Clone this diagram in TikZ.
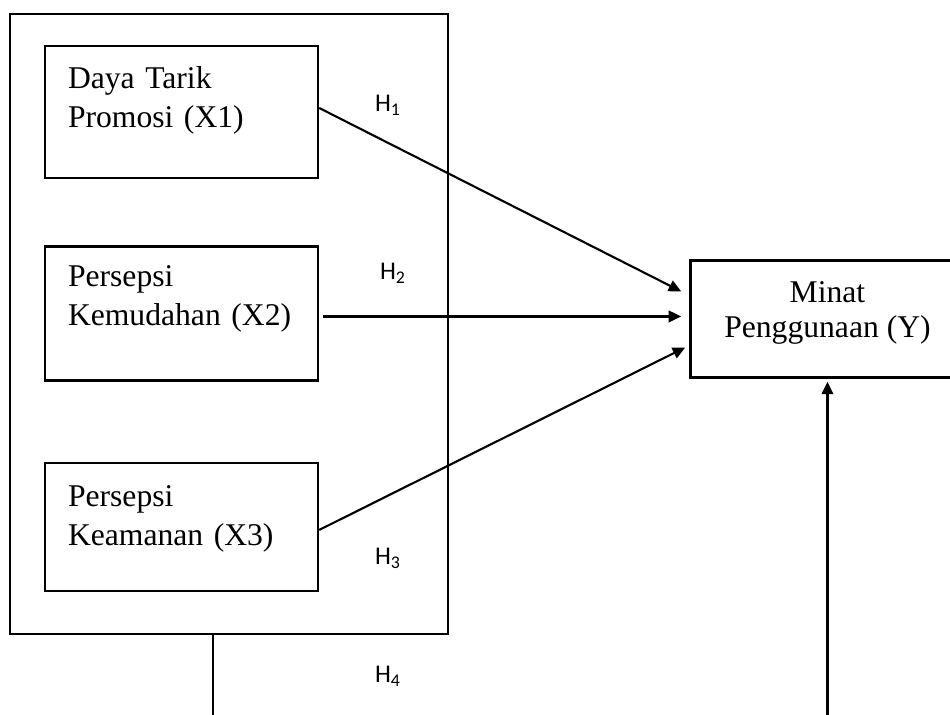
\documentclass[tikz,border=0pt]{standalone}
\usepackage{fontspec}
\setmainfont{Liberation Serif}
\newfontfamily\hfont{Carlito}
\usetikzlibrary{arrows.meta, positioning}

\newcommand{\boxpad}[1]{\rule[-#1]{0pt}{0pt}}

\begin{document}
\begin{tikzpicture}[>={Triangle[length=2.5mm,width=2.3mm]}, line width=1.2pt,
		varbox/.style={rectangle, draw, line width=1.4pt, minimum width=5.46cm, text width=4.54cm, inner xsep=0.46cm, inner ysep=0pt, align=left, font=\fontsize{18}{22.2}\selectfont},
		depbox/.style={rectangle, draw, line width=1.4pt, minimum width=5.48cm, minimum height=2.34cm, inner ysep=0pt, align=center, font=\fontsize{18}{19.9}\selectfont},
		hyp/.style={font=\hfont\fontsize{14.5}{16}\selectfont},
		arrow/.style={->}
	]
	\useasboundingbox (0,0) rectangle (19,-14.3);
	
	% Nodes
	\node[draw, line width=1.4pt, minimum width=8.76cm, minimum height=12.4cm] (outer) at (4.58,-6.48) {};
	\node[varbox, minimum height=2.64cm] (x1) at (3.63,-2.24) {Daya Tarik\\Promosi (X1)\boxpad{0.6cm}};
	\node[varbox, minimum height=2.68cm, below=1.32cm of x1] (x2) {Persepsi\\Kemudahan (X2)\boxpad{0.7cm}};
	\node[varbox, minimum height=2.56cm, below=1.6cm of x2] (x3) {Persepsi\\Keamanan (X3)\boxpad{0.46cm}};
	\node[depbox, right=7.4cm of x2, yshift=-0.11cm] (y) {Minat\\Penggunaan (Y)\boxpad{0.39cm}};
	
	% Labels
	\node[hyp] (h1) at (7.76,-2.1) {H\textsubscript{1}};
	\node[hyp] (h2) at (7.86,-5.46) {H\textsubscript{2}};
	\node[hyp] (h3) at (7.76,-11.16) {H\textsubscript{3}};
	\node[hyp] (h4) at (7.76,-13.52) {H\textsubscript{4}};
	
	% Arrows
	\coordinate (lfoot) at (4.26,-14.3);
	\coordinate (rfoot) at (y.south |- lfoot);
	\draw[arrow] ([yshift=0.08cm]x1.east) -- ([xshift=-0.16cm,yshift=0.55cm]y.west);
	\draw[arrow] ([xshift=0.08cm,yshift=-0.06cm]x2.east) -- ([xshift=-0.16cm,yshift=0.05cm]y.west);
	\draw[arrow] ([yshift=-0.06cm]x3.east) -- ([xshift=-0.08cm,yshift=-0.57cm]y.west);
	\draw ([xshift=-0.32cm]outer.south) -- (lfoot);
	\draw[arrow] (rfoot) -- ([yshift=-0.06cm]y.south);
\end{tikzpicture}
\end{document}
